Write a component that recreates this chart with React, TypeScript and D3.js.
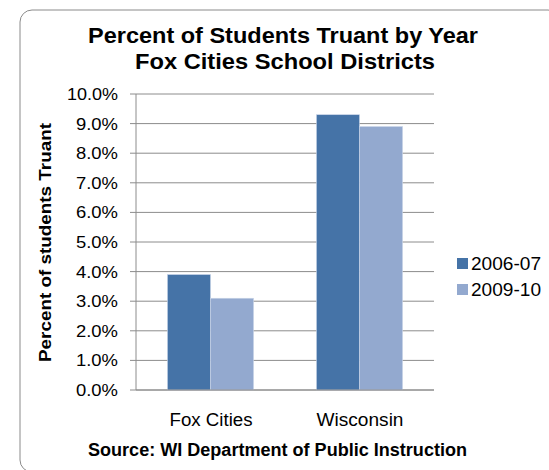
import React from "react";
import * as d3 from "d3";

const categories = ["Fox Cities", "Wisconsin"];
const seriesNames = ["2006-07", "2009-10"];
const values2006 = [3.9, 9.3];
const values2009 = [3.1, 8.9];
const yTicks = [0, 1, 2, 3, 4, 5, 6, 7, 8, 9, 10];
const colors = ["#4573A7", "#93A9CF"];

export default function App() {
  const W = 549, H = 470;
  const left = 136, right = 434, top = 94, bottom = 390;
  const font = "'Liberation Sans', Arial, sans-serif";
  const y = d3.scaleLinear().domain([0, 10]).range([bottom, top]);
  const x = d3.scaleBand().domain(categories).range([left, right]).paddingInner(0).paddingOuter(0);
  const groupW = x.bandwidth() / 1.73;
  const xs = d3.scaleBand().domain(seriesNames).range([0, groupW]);
  const series = [values2006, values2009];
  const catLen = [83, 87];
  return (
    <svg width={W} height={H} style={{ position: "absolute", left: 0, top: 0 }} fontFamily={font}>
      <rect x={0} y={0} width={W} height={H} fill="#fff" />
      <rect x={20} y={10} width={540} height={462} rx={12} fill="#fff" stroke="#8a8a8a" strokeWidth={1} />
      <text x={88} y={43} fontSize={22} fontWeight="bold" textLength={390} lengthAdjust="spacingAndGlyphs">Percent of Students Truant by Year</text>
      <text x={135} y={69} fontSize={22} fontWeight="bold" textLength={300} lengthAdjust="spacingAndGlyphs">Fox Cities School Districts</text>
      {yTicks.map((t) => (
        <g key={t}>
          <line x1={130} x2={right} y1={y(t)} y2={y(t)} stroke="#8c8c8c" strokeWidth={1} />
          <text x={118} y={y(t)} dy="0.35em" textAnchor="end" fontSize={17}
            textLength={t === 10 ? 51 : 42} lengthAdjust="spacingAndGlyphs">{t.toFixed(1)}%</text>
        </g>
      ))}
      <line x1={left} x2={left} y1={top} y2={bottom} stroke="#8c8c8c" />
      {categories.map((c, i) => {
        const gx = (x(c) as number) + (x.bandwidth() - groupW) / 2;
        return (
          <g key={c}>
            {seriesNames.map((s, j) => (
              <rect key={s} x={gx + (xs(s) as number)} y={y(series[j][i])} width={xs.bandwidth()}
                height={bottom - y(series[j][i])} fill={colors[j]} stroke="#c9d4e8" strokeWidth={0.6} />
            ))}
            <text x={(x(c) as number) + x.bandwidth() / 2 - catLen[i] / 2 + 0.5} y={426} fontSize={18}
              textLength={catLen[i]} lengthAdjust="spacingAndGlyphs">{c}</text>
          </g>
        );
      })}
      <line x1={left} x2={right} y1={bottom} y2={bottom} stroke="#8c8c8c" />
      <text transform={`translate(51,362) rotate(-90)`} fontSize={17} fontWeight="bold"
        textLength={239} lengthAdjust="spacingAndGlyphs">Percent of  students Truant</text>
      {seriesNames.map((s, j) => (
        <g key={s}>
          <rect x={457} y={258 + j * 26} width={11} height={11} fill={colors[j]} />
          <text x={471} y={264 + j * 26} dy="0.35em" fontSize={18} textLength={70} lengthAdjust="spacingAndGlyphs">{s}</text>
        </g>
      ))}
      <text x={88} y={456} fontSize={18} fontWeight="bold" textLength={379} lengthAdjust="spacingAndGlyphs">Source: WI Department of Public Instruction</text>
    </svg>
  );
}
